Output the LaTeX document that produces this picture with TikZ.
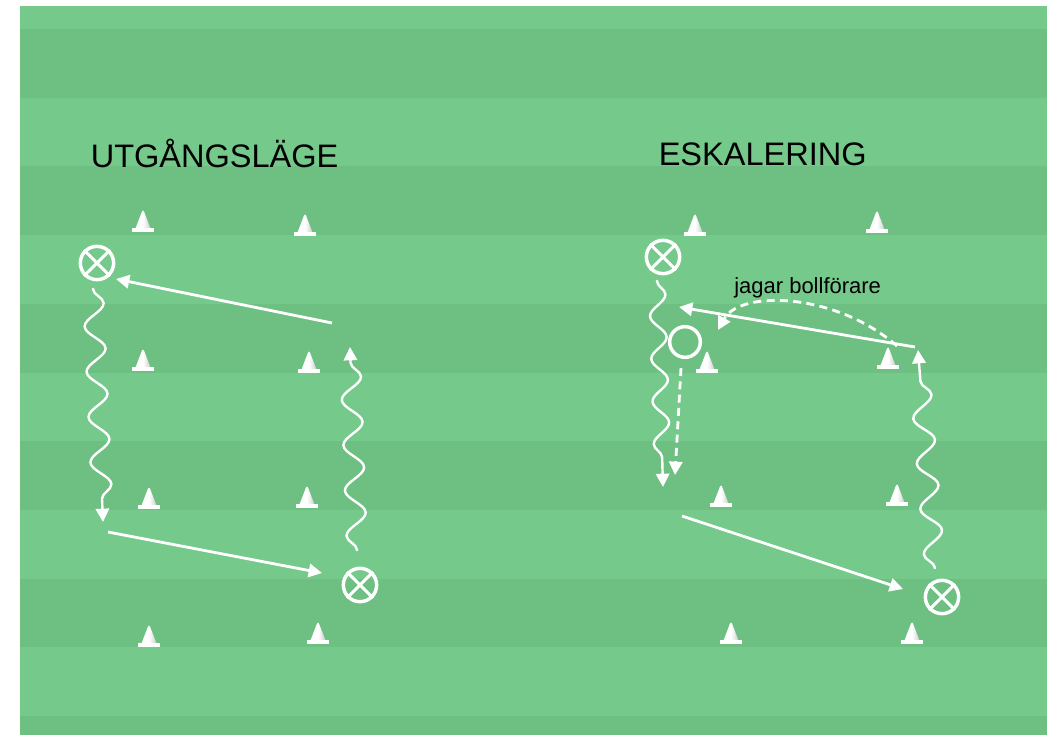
\documentclass[tikz,border=0pt]{standalone}
\usepackage{fontspec}
\setmainfont{Liberation Sans}
\usetikzlibrary{arrows.meta,decorations.pathmorphing}
\definecolor{fieldlight}{RGB}{116,201,139}
\definecolor{fielddark}{RGB}{109,192,130}
\definecolor{conegray}{RGB}{205,205,205}
\begin{document}
\begin{tikzpicture}[x=0.75pt,y=-0.75pt,
  tip/.style={-{Triangle[length=10pt,width=10pt]}},
  pass/.style={draw=white,line width=2.1pt,tip},
  chase/.style={draw=white,line width=2.1pt,tip,dash pattern=on 6pt off 4pt},
  dribble/.style={draw=white,line width=1.8pt,tip,decorate,
    decoration={snake,amplitude=7.5pt,segment length=34pt,pre length=1pt,post length=10pt}},
  dribblesmall/.style={dribble,decoration={snake,amplitude=6pt,segment length=32pt,pre length=1pt,post length=10pt}},
  xplayer/.style={circle,draw=white,line width=2.6pt,minimum size=25pt,inner sep=0pt},
  oplayer/.style={circle,draw=white,line width=2.6pt,minimum size=23pt,inner sep=0pt},
  xcross/.style={draw=white,line width=2.3pt},
  title/.style={anchor=base west,inner sep=0pt,font=\fontsize{24.4}{29}\selectfont},
  label/.style={anchor=base west,inner sep=0pt,font=\fontsize{16.5}{19}\selectfont},
  fieldcone/.pic={
    \shade[left color=white,right color=conegray,middle color=white] (-7.5,-3.5) -- (-1,-20.5) -- (0,-21.5) -- (1,-20.5) -- (7.5,-3.5) -- cycle;
    \fill[white] (-11,-4) rectangle (11,0);
  }
]
\useasboundingbox (0,0) rectangle (1053,735);
\fill[white] (0,0) rectangle (1053,735);
\fill[fieldlight] (20,6) rectangle (1047,735);
\foreach \k in {0,2,...,10}{
  \fill[fielddark] (20,{29+\k*68.7}) rectangle (1047,{min(735,29+(\k+1)*68.7)});
}
% titles
\node[title] (t1) at (90.5,167) {UTGÅNGSLÄGE};
\node[title] (t2) at (658.5,165) {ESKALERING};
\node[label] (t3) at (734,293) {jagar bollförare};
% cones left
\foreach \cx/\cy in {143/232,305/236,143/371,309/373,149/509,307/508,149/647,318/644}{
  \pic at (\cx,\cy) {fieldcone};
}
% cones right
\foreach \cx/\cy in {695/236,877/233,707/373,888/369,721/507,897/506,731/644,912/644}{
  \pic at (\cx,\cy) {fieldcone};
}
% players left
\node[xplayer] (L1) at (97,263) {};
\draw[xcross] (L1.45) -- (L1.225) (L1.135) -- (L1.315);
\node[xplayer] (L2) at (360,585) {};
\draw[xcross] (L2.45) -- (L2.225) (L2.135) -- (L2.315);
% players right
\node[xplayer] (R1) at (663,257) {};
\draw[xcross] (R1.45) -- (R1.225) (R1.135) -- (R1.315);
\node[xplayer] (R2) at (942,597) {};
\draw[xcross] (R2.45) -- (R2.225) (R2.135) -- (R2.315);
\node[oplayer] (R3) at (685,342) {};
% connector ends
\coordinate (a1s) at (332,323); \coordinate (a1e) at (116,279);
\coordinate (a2s) at (93,288);  \coordinate (a2e) at (103,522);
\coordinate (a3s) at (108,532); \coordinate (a3e) at (322,573);
\coordinate (a4s) at (357,551); \coordinate (a4e) at (350,347);
\coordinate (b1s) at (915,347); \coordinate (b1e) at (679,307);
\coordinate (b2s) at (897,346); \coordinate (b2e) at (718,330);
\coordinate (b3s) at (657,280); \coordinate (b3e) at (663,487);
\coordinate (b4s) at (681,368); \coordinate (b4e) at (675,475);
\coordinate (b5s) at (682,516); \coordinate (b5e) at (903,589);
\coordinate (b6s) at (935,569); \coordinate (b6e) at (918,350);
% left connectors
\draw[pass] (a1s) -- (a1e);
\draw[dribble] (a2s) -- (a2e);
\draw[pass] (a3s) -- (a3e);
\draw[dribble] (a4s) -- (a4e);
% right connectors
\draw[pass] (b1s) -- (b1e);
\draw[chase] (b2s) .. controls (835,292) and (740,290) .. (b2e);
\draw[dribblesmall] (b3s) -- (b3e);
\draw[chase] (b4s) -- (b4e);
\draw[pass] (b5s) -- (b5e);
\draw[dribble] (b6s) -- (b6e);
\end{tikzpicture}
\end{document}
